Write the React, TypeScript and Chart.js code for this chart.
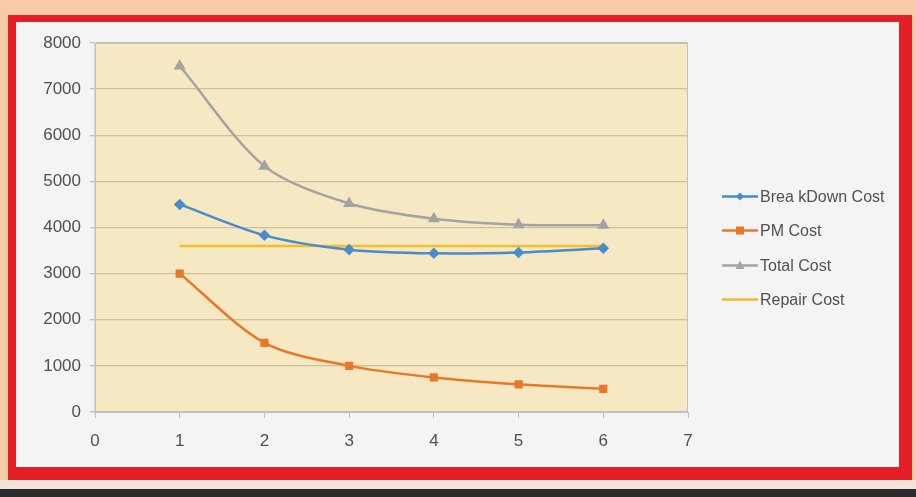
import React, { useEffect, useRef } from "react";
import { Chart, registerables } from "chart.js";
Chart.register(...registerables);

const xValues = [1, 2, 3, 4, 5, 6];
const breakdownCost = [4500, 3830, 3520, 3440, 3460, 3550];
const pmCost = [3000, 1500, 1000, 750, 600, 500];
const totalCost = [7500, 5330, 4520, 4190, 4060, 4050];
const repairCost = [3600, 3600, 3600, 3600, 3600, 3600];
const seriesNames = ["Brea kDown Cost", "PM Cost", "Total Cost", "Repair Cost"];
const xRange = [0, 7];
const yRange = [0, 8000];
const yStep = 1000;

const FONT = "'Liberation Sans', Arial, sans-serif";
const TEXT = "#505050";

function drawMarker(ctx: CanvasRenderingContext2D, style: string, x: number, y: number, r: number, color: string) {
  ctx.save();
  ctx.fillStyle = color;
  ctx.beginPath();
  if (style === "rectRot") {
    ctx.moveTo(x, y - r);
    ctx.lineTo(x + r, y);
    ctx.lineTo(x, y + r);
    ctx.lineTo(x - r, y);
    ctx.closePath();
    ctx.fill();
  } else if (style === "rect") {
    ctx.rect(x - r, y - r, 2 * r, 2 * r);
    ctx.fill();
  } else if (style === "triangle") {
    ctx.moveTo(x, y - r * 1.1);
    ctx.lineTo(x + r, y + r * 0.8);
    ctx.lineTo(x - r, y + r * 0.8);
    ctx.closePath();
    ctx.fill();
  }
  ctx.restore();
}

const plotBg = {
  id: "plotBg",
  beforeDraw(chart: any) {
    const { ctx, chartArea: a } = chart;
    ctx.save();
    ctx.fillStyle = "#F6E8C2";
    ctx.fillRect(a.left, a.top, a.right - a.left, a.bottom - a.top);
    ctx.restore();
  },
  beforeDatasetsDraw(chart: any) {
    const { ctx, chartArea: a } = chart;
    ctx.save();
    ctx.strokeStyle = "#B9C3CB";
    ctx.lineWidth = 1;
    ctx.strokeRect(a.left, a.top + 0.5, a.right - a.left - 0.5, a.bottom - a.top);
    ctx.restore();
  },
};

const customLegend = {
  id: "customLegend",
  afterDraw(chart: any) {
    const { ctx } = chart;
    const x0 = 722;
    const lineLen = 36;
    const yStart = 196;
    const gap = 34.3;
    chart.data.datasets.forEach((ds: any, i: number) => {
      const y = Math.round(yStart + i * gap) + 0.5;
      ctx.save();
      ctx.strokeStyle = ds.borderColor;
      ctx.lineWidth = 2.5;
      ctx.beginPath();
      ctx.moveTo(x0, y);
      ctx.lineTo(x0 + lineLen, y);
      ctx.stroke();
      if (ds.pointStyle && ds.pointRadius > 0) {
        drawMarker(ctx, ds.pointStyle, x0 + lineLen / 2, y, ds.pointRadius, ds.borderColor);
      }
      ctx.fillStyle = TEXT;
      ctx.font = `16px ${FONT}`;
      ctx.textBaseline = "middle";
      ctx.textAlign = "left";
      ctx.fillText(ds.label, x0 + lineLen + 2, y + 1);
      ctx.restore();
    });
  },
};

export default function App() {
  const ref = useRef<HTMLCanvasElement>(null);
  useEffect(() => {
    if (!ref.current) return;
    const mk = (vals: number[]) => xValues.map((x, i) => ({ x, y: vals[i] }));
    const chart = new Chart(ref.current, {
      type: "line",
      data: {
        datasets: [
          { label: seriesNames[0], data: mk(breakdownCost), borderColor: "#4A8CCB", backgroundColor: "#4A8CCB", pointStyle: "rectRot", pointRadius: 4, borderWidth: 2.5, tension: 0.3 },
          { label: seriesNames[1], data: mk(pmCost), borderColor: "#E8772A", backgroundColor: "#E8772A", pointStyle: "rect", pointRadius: 4, borderWidth: 2.5, tension: 0.3 },
          { label: seriesNames[2], data: mk(totalCost), borderColor: "#A3A3A3", backgroundColor: "#A3A3A3", pointStyle: "triangle", pointRadius: 4.5, borderWidth: 2.5, tension: 0.3 },
          { label: seriesNames[3], data: mk(repairCost), borderColor: "#F2BE2A", backgroundColor: "#F2BE2A", pointStyle: "line", pointRadius: 0, borderWidth: 2.5, tension: 0.3 },
        ] as any,
      },
      options: {
        animation: false,
        responsive: false,
        maintainAspectRatio: false,
        layout: { padding: { top: 43, right: 228, left: 0, bottom: 0 } },
        plugins: { legend: { display: false }, tooltip: { enabled: false } },
        scales: {
          x: {
            type: "linear",
            min: xRange[0],
            max: xRange[1],
            ticks: { stepSize: 1, color: TEXT, font: { size: 17, family: FONT }, padding: 13 },
            grid: { drawOnChartArea: false, drawTicks: true, tickLength: 6, color: "#BFBFBF" },
            border: { color: "#BFBFBF" },
            afterFit: (s: any) => { s.height = 85; },
          },
          y: {
            min: yRange[0],
            max: yRange[1],
            ticks: { stepSize: yStep, color: TEXT, font: { size: 17, family: FONT }, padding: 9, callback: (v: any) => String(v) },
            grid: { color: "#CBC09E", lineWidth: 1.3, tickLength: 5 },
            border: { color: "#BFBFBF" },
            afterFit: (s: any) => { s.width = 95; },
          },
        },
      } as any,
      plugins: [plotBg, customLegend],
    });
    return () => chart.destroy();
  }, []);

  return (
    <div style={{ position: "fixed", left: 0, top: 0, width: 916, height: 497, background: "#F7CBAA", overflow: "hidden" }}>
      <div style={{ position: "absolute", left: 0, top: 480, width: 916, height: 10, background: "#EFE3DA" }} />
      <div style={{ position: "absolute", left: 0, top: 489, width: 916, height: 8, background: "#2A2A2A" }} />
      <div
        style={{
          position: "absolute",
          left: 8,
          top: 15,
          width: 904,
          height: 465,
          boxSizing: "border-box",
          borderStyle: "solid",
          borderColor: "#E31E26",
          borderWidth: "7px 13px 13px 8px",
          background: "#F4F4F4",
        }}
      />
      <canvas ref={ref} width={916} height={497} style={{ position: "absolute", left: 0, top: 0, width: 916, height: 497 }} />
    </div>
  );
}
